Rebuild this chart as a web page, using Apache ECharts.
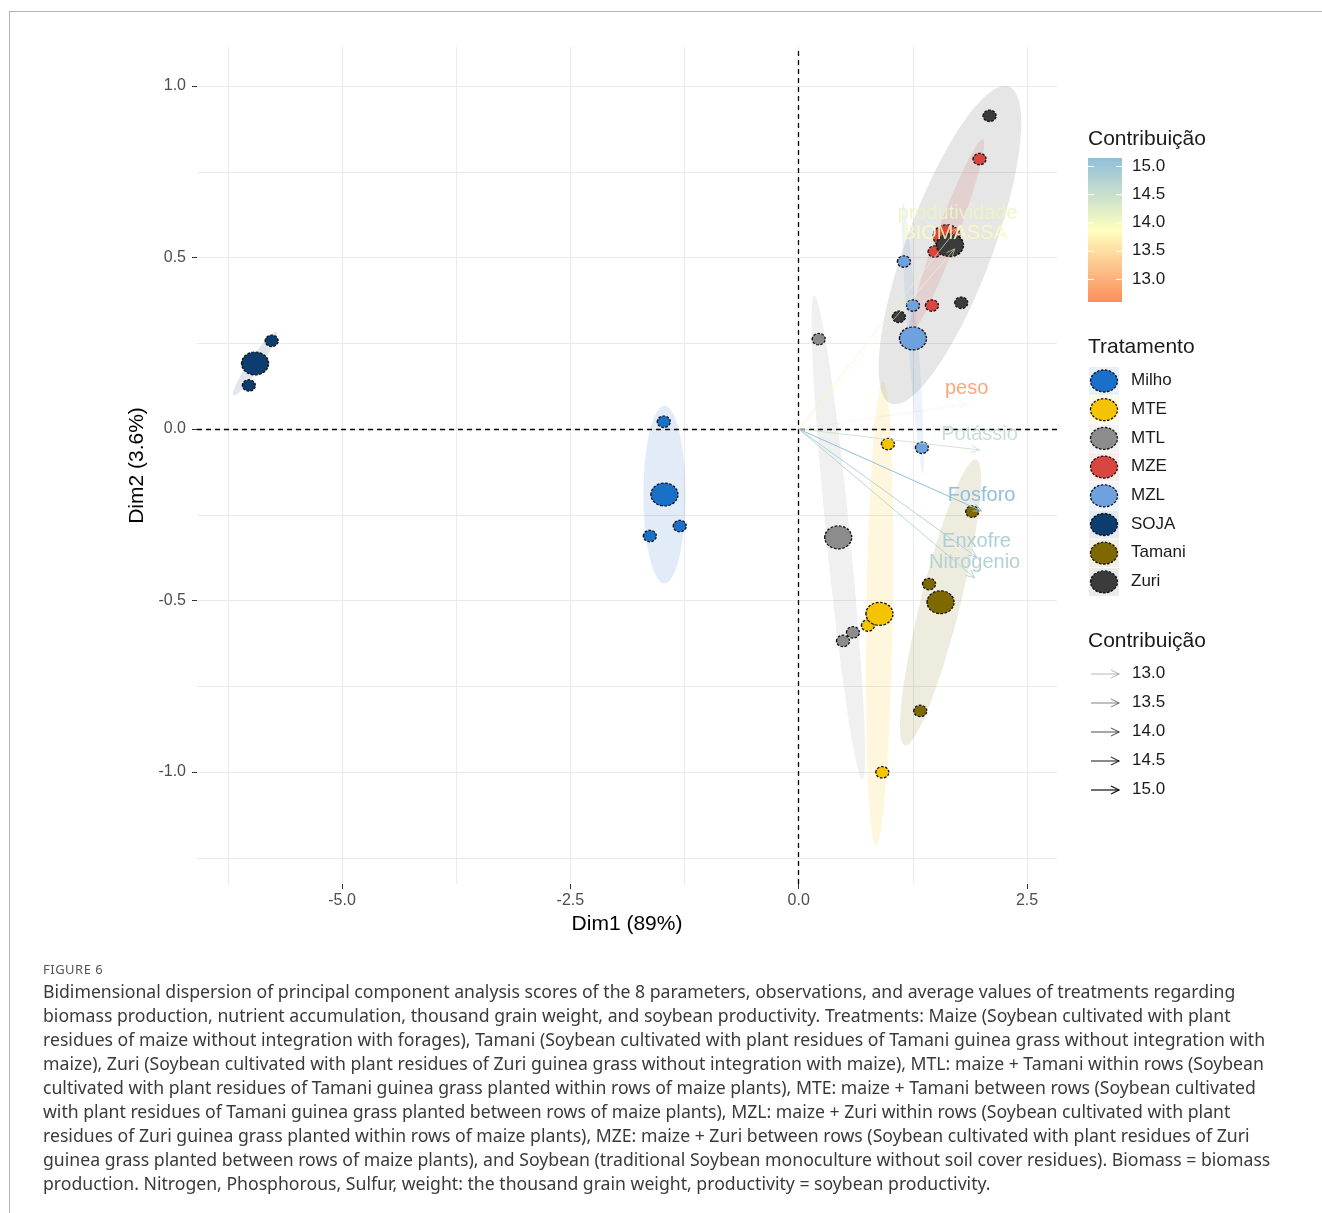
<!DOCTYPE html>
<html>
<head>
<meta charset="utf-8">
<script src="https://cdn.jsdelivr.net/npm/echarts@6/dist/echarts.min.js"></script>
<style>
html, body { margin: 0; padding: 0; background: #fff; }
#wrap { position: relative; width: 1322px; height: 1213px; overflow: hidden; }
#frame { position: absolute; left: 9px; top: 11px; width: 1330px; height: 1220px;
  border-left: 1.5px solid #b3b3b3; border-top: 1.5px solid #b3b3b3; }
#chart { position: absolute; left: 0; top: 0; width: 1322px; height: 1213px; }
#fig { position: absolute; left: 43px; top: 960px; font: 13px 'Noto Sans', sans-serif;
  letter-spacing: 0.5px; color: #555; }
#cap { position: absolute; left: 43px; top: 979px; font: 17.65px/24px 'Noto Sans', sans-serif;
  color: #3a3a3a; white-space: nowrap; }
</style>
</head>
<body>
<div id="wrap">
  <div id="frame"></div>
  <div id="chart"></div>
  <div id="fig">FIGURE 6</div>
  <div id="cap">
    <div>Bidimensional dispersion of principal component analysis scores of the 8 parameters, observations, and average values of treatments regarding</div>
    <div>biomass production, nutrient accumulation, thousand grain weight, and soybean productivity. Treatments: Maize (Soybean cultivated with plant</div>
    <div>residues of maize without integration with forages), Tamani (Soybean cultivated with plant residues of Tamani guinea grass without integration with</div>
    <div>maize), Zuri (Soybean cultivated with plant residues of Zuri guinea grass without integration with maize), MTL: maize + Tamani within rows (Soybean</div>
    <div>cultivated with plant residues of Tamani guinea grass planted within rows of maize plants), MTE: maize + Tamani between rows (Soybean cultivated</div>
    <div>with plant residues of Tamani guinea grass planted between rows of maize plants), MZL: maize + Zuri within rows (Soybean cultivated with plant</div>
    <div>residues of Zuri guinea grass planted within rows of maize plants), MZE: maize + Zuri between rows (Soybean cultivated with plant residues of Zuri</div>
    <div>guinea grass planted between rows of maize plants), and Soybean (traditional Soybean monoculture without soil cover residues). Biomass = biomass</div>
    <div>production. Nitrogen, Phosphorous, Sulfur, weight: the thousand grain weight, productivity = soybean productivity.</div>
  </div>
</div>
<script>
// treatments
const groups = ['Milho', 'MTE', 'MTL', 'MZE', 'MZL', 'SOJA', 'Tamani', 'Zuri']
const groupColors = ['#1a6fc9', '#f5c400', '#8c8c8c', '#d9453f', '#6fa1de', '#0c3d6e', '#7d6900', '#3b3b3b']

// individual observations (Dim1, Dim2)
const obsGroup = ['Milho', 'Milho', 'Milho', 'MTE', 'MTE', 'MTE', 'MTL', 'MTL', 'MTL',
  'MZE', 'MZE', 'MZE', 'MZL', 'MZL', 'MZL', 'SOJA', 'SOJA', 'SOJA',
  'Tamani', 'Tamani', 'Tamani', 'Zuri', 'Zuri', 'Zuri']
const obsX = [-1.477, -1.302, -1.630, 0.977, 0.758, 0.916, 0.219, 0.594, 0.485,
  1.980, 1.488, 1.459, 1.152, 1.251, 1.349, -5.770, -6.020, -5.975,
  1.900, 1.427, 1.331, 2.090, 1.780, 1.097]
const obsY = [0.021, -0.283, -0.312, -0.044, -0.573, -1.001, 0.262, -0.593, -0.618,
  0.787, 0.517, 0.360, 0.488, 0.360, -0.055, 0.257, 0.127, 0.195,
  -0.241, -0.452, -0.822, 0.913, 0.368, 0.327]

// treatment means (same order as groups)
const meanX = [-1.470, 0.884, 0.433, 1.620, 1.251, -5.952, 1.553, 1.656]
const meanY = [-0.191, -0.539, -0.316, 0.562, 0.264, 0.191, -0.505, 0.536]

// confidence ellipses: vector to the top point and horizontal half width
const ellUx = [0.000, 0.038, -0.263, 0.394, -0.109, 0.230, 0.383, 0.600]
const ellUy = [0.259, 0.676, 0.706, 0.283, 0.394, 0.093, 0.417, 0.464]
const ellW = [0.230, 0.145, 0.130, 0.120, 0.055, 0.077, 0.224, 0.500]

// variables
const varNames = ['produtividade', 'BIOMASSA', 'peso', 'Potássio', 'Fosforo', 'Enxofre', 'Nitrogenio']
const varX = [1.740, 1.707, 1.838, 1.980, 2.002, 1.947, 1.926]
const varY = [0.586, 0.525, 0.073, -0.061, -0.239, -0.373, -0.434]
const varContrib = [14.10, 13.95, 12.60, 14.55, 15.15, 14.85, 14.80]

const contribTicks = [13.0, 13.5, 14.0, 14.5, 15.0]
const gradientCols = ['#FC8D59', '#FFFFBF', '#91BFDB']

const xTicks = [-5, -2.5, 0, 2.5]
const yTicks = [-1, -0.5, 0, 0.5, 1]

const FONT = '"Liberation Sans", Arial, sans-serif'
const CMIN = Math.min(...varContrib)
const CMAX = Math.max(...varContrib)

function hexToRgb(h) {
  const n = parseInt(h.slice(1), 16)
  return [(n >> 16) & 255, (n >> 8) & 255, n & 255]
}
function rgba(h, a) {
  const c = hexToRgb(h)
  return `rgba(${c[0]},${c[1]},${c[2]},${a})`
}
function contribColor(v) {
  const t = (v - CMIN) / (CMAX - CMIN)
  const s = gradientCols.map(hexToRgb)
  const a = t < 0.5 ? s[0] : s[1]
  const b = t < 0.5 ? s[1] : s[2]
  const u = t < 0.5 ? t / 0.5 : (t - 0.5) / 0.5
  const c = a.map((x, i) => Math.round(x + (b[i] - x) * u))
  return `rgb(${c.join(',')})`
}
function contribAlpha(v) {
  return 0.1 + 0.9 * (v - CMIN) / (CMAX - CMIN)
}

const ELLIPSE = 'path://M0,50 A50,50 0 1,1 100,50 A50,50 0 1,1 0,50 Z'
const pointBorder = { borderColor: '#111', borderWidth: 1.3, borderType: [2.5, 1.5] }

const obsData = obsX.map((x, i) => ({
  value: [x, obsY[i]],
  itemStyle: { color: groupColors[groups.indexOf(obsGroup[i])] }
}))
const meanData = meanX.map((x, i) => ({
  value: [x, meanY[i]],
  itemStyle: { color: groupColors[i] }
}))

// legends drawn on the right
const graphics = []
const title = (text, y) => ({
  type: 'text', left: 1088, top: y - 11,
  style: { text, fill: '#1a1a1a', font: '21px ' + FONT }
})
graphics.push(title('Contribuição', 140))
const BAR_X = 1088, BAR_Y = 158, BAR_W = 34, BAR_H = 144
graphics.push({
  type: 'rect', shape: { x: BAR_X, y: BAR_Y, width: BAR_W, height: BAR_H },
  style: {
    fill: {
      type: 'linear', x: 0, y: 0, x2: 0, y2: 1,
      colorStops: [
        { offset: 0, color: gradientCols[2] },
        { offset: 0.5, color: gradientCols[1] },
        { offset: 1, color: gradientCols[0] }
      ]
    }
  }
})
contribTicks.forEach(v => {
  const y = BAR_Y + (CMAX - v) / (CMAX - CMIN) * BAR_H
  graphics.push({ type: 'line', shape: { x1: BAR_X, y1: y, x2: BAR_X + 6, y2: y }, style: { stroke: '#fff', lineWidth: 1 } })
  graphics.push({ type: 'line', shape: { x1: BAR_X + BAR_W - 6, y1: y, x2: BAR_X + BAR_W, y2: y }, style: { stroke: '#fff', lineWidth: 1 } })
  graphics.push({ type: 'text', left: 1132, top: y - 9, style: { text: v.toFixed(1), fill: '#1a1a1a', font: '17px ' + FONT } })
})

graphics.push(title('Tratamento', 348))
groups.forEach((g, i) => {
  const y = 381 + i * 28.7
  graphics.push({ type: 'rect', shape: { x: 1089, y: y - 14, width: 30, height: 28 }, style: { fill: rgba(groupColors[i], 0.1) } })
  graphics.push({
    type: 'ellipse', shape: { cx: 1104, cy: y, rx: 13.5, ry: 11 },
    style: { fill: groupColors[i], stroke: '#111', lineWidth: 1.3, lineDash: [2.5, 1.5] }
  })
  graphics.push({ type: 'text', left: 1131, top: y - 9, style: { text: g, fill: '#1a1a1a', font: '17px ' + FONT } })
})

graphics.push(title('Contribuição', 642))
contribTicks.forEach((v, i) => {
  const y = 674 + i * 29
  const col = `rgba(0,0,0,${contribAlpha(v).toFixed(2)})`
  graphics.push({ type: 'line', shape: { x1: 1091, y1: y, x2: 1119, y2: y }, style: { stroke: col, lineWidth: 1.2 } })
  graphics.push({ type: 'polyline', shape: { points: [[1111, y - 4], [1119, y], [1111, y + 4]] }, style: { stroke: col, fill: null, lineWidth: 1.2 } })
  graphics.push({ type: 'text', left: 1132, top: y - 9, style: { text: v.toFixed(1), fill: '#1a1a1a', font: '17px ' + FONT } })
})

const gridLine = { color: '#ebebeb', width: 1.1 }
const tickLabel = { color: '#4d4d4d', fontSize: 16, fontFamily: FONT }

const chart = echarts.init(document.getElementById('chart'))
chart.setOption({
  animation: false,
  grid: { left: 197, top: 47, width: 860, height: 837 },
  xAxis: [
    {
      type: 'value', min: -6.588, max: 2.828, minInterval: 1.25, maxInterval: 1.25,
      axisLine: { show: false, onZero: false }, axisTick: { show: false }, axisLabel: { show: false },
      splitLine: { show: true, showMinLine: false, showMaxLine: false, lineStyle: gridLine }
    },
    {
      type: 'value', min: -6.588, max: 2.828, position: 'bottom',
      axisLine: { show: false, onZero: false }, splitLine: { show: false },
      axisTick: { show: true, customValues: xTicks, length: 5, lineStyle: { color: '#333' } },
      axisLabel: { customValues: xTicks, formatter: v => v.toFixed(1), margin: 9, ...tickLabel },
      name: 'Dim1 (89%)', nameLocation: 'middle', nameGap: 25,
      nameTextStyle: { fontSize: 21, color: '#000', fontFamily: FONT }
    }
  ],
  yAxis: [
    {
      type: 'value', min: -1.3265, max: 1.1137, minInterval: 0.25, maxInterval: 0.25,
      axisLine: { show: false, onZero: false }, axisTick: { show: false }, axisLabel: { show: false },
      splitLine: { show: true, showMinLine: false, showMaxLine: false, lineStyle: gridLine }
    },
    {
      type: 'value', min: -1.3265, max: 1.1137, position: 'left',
      axisLine: { show: false, onZero: false }, splitLine: { show: false },
      axisTick: { show: true, customValues: yTicks, length: 5, lineStyle: { color: '#333' } },
      axisLabel: { customValues: yTicks, formatter: v => v.toFixed(1), margin: 11, ...tickLabel },
      name: 'Dim2 (3.6%)', nameLocation: 'middle', nameGap: 40,
      nameTextStyle: { fontSize: 21, color: '#000', fontFamily: FONT }
    }
  ],
  graphic: graphics,
  series: [
    {
      name: 'ellipses', type: 'custom', xAxisIndex: 0, yAxisIndex: 0, z: 1, clip: true, silent: true,
      data: meanX.map((x, i) => [x, meanY[i]]),
      renderItem: (params, api) => {
        const g = params.dataIndex
        const pts = []
        for (let k = 0; k < 96; k++) {
          const t = k / 96 * 2 * Math.PI
          pts.push(api.coord([
            meanX[g] + ellUx[g] * Math.cos(t) + ellW[g] * Math.sin(t),
            meanY[g] + ellUy[g] * Math.cos(t)
          ]))
        }
        return { type: 'polygon', shape: { points: pts }, style: { fill: rgba(groupColors[g], 0.13) } }
      }
    },
    {
      name: 'obs', type: 'scatter', xAxisIndex: 0, yAxisIndex: 0, z: 3,
      symbol: ELLIPSE, symbolSize: [13, 11.5], symbolKeepAspect: false,
      itemStyle: { ...pointBorder, opacity: 1 },
      data: obsData,
      markLine: {
        silent: true, symbol: 'none', label: { show: false },
        lineStyle: { color: '#000', type: [5, 4], width: 1.3 },
        data: [{ xAxis: 0 }, { yAxis: 0 }]
      }
    },
    {
      name: 'means', type: 'scatter', xAxisIndex: 0, yAxisIndex: 0, z: 4,
      symbol: ELLIPSE, symbolSize: [27, 23], symbolKeepAspect: false,
      itemStyle: { ...pointBorder, opacity: 1 },
      data: meanData
    },
    {
      name: 'variables', type: 'custom', xAxisIndex: 0, yAxisIndex: 0, z: 5, silent: true,
      data: varX.map((x, i) => [x, varY[i], varContrib[i]]),
      renderItem: (params, api) => {
        const i = params.dataIndex
        const p0 = api.coord([0, 0])
        const p1 = api.coord([api.value(0), api.value(1)])
        const col = contribColor(api.value(2))
        const a = contribAlpha(api.value(2))
        const ang = Math.atan2(p1[1] - p0[1], p1[0] - p0[0])
        const hl = 9, ha = 0.42
        const h1 = [p1[0] - hl * Math.cos(ang - ha), p1[1] - hl * Math.sin(ang - ha)]
        const h2 = [p1[0] - hl * Math.cos(ang + ha), p1[1] - hl * Math.sin(ang + ha)]
        return {
          type: 'group',
          children: [
            { type: 'line', shape: { x1: p0[0], y1: p0[1], x2: p1[0], y2: p1[1] }, style: { stroke: col, lineWidth: 1, opacity: a } },
            { type: 'polyline', shape: { points: [h1, p1, h2] }, style: { stroke: col, fill: null, lineWidth: 1, opacity: a } },
            {
              type: 'text', x: p1[0], y: p1[1] - 15,
              style: {
                text: varNames[i], fill: col, opacity: 0.75 + 0.25 * a, font: '20px ' + FONT,
                align: 'center', verticalAlign: 'middle', textAlign: 'center', textVerticalAlign: 'middle'
              }
            }
          ]
        }
      }
    }
  ]
})
</script>
</body>
</html>
